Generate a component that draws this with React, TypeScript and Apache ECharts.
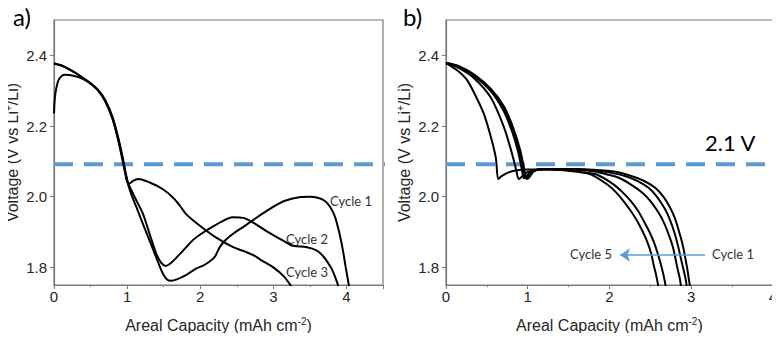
import React, { useEffect, useRef } from "react";
import * as echarts from "echarts";

// ---------- data ----------
const yTickValues = [1.8, 2.0, 2.2, 2.4];
const thresholdV = 2.092;

// Panel a
const aCycle1: [number, number][] = [
  [0, 2.235], [0.01, 2.275], [0.03, 2.305], [0.07, 2.333], [0.15, 2.345], [0.25, 2.343],
  [0.4, 2.333], [0.5, 2.32], [0.6, 2.302], [0.7, 2.272], [0.8, 2.222], [0.88, 2.162],
  [0.94, 2.105], [0.98, 2.065], [1.02, 2.03], [1.06, 2.005], [1.13, 1.969], [1.22, 1.921],
  [1.31, 1.874], [1.4, 1.827], [1.49, 1.782], [1.55, 1.765], [1.6, 1.762], [1.68, 1.766],
  [1.81, 1.779], [1.95, 1.797], [2.04, 1.805], [2.12, 1.815], [2.2, 1.83], [2.27, 1.858],
  [2.35, 1.878], [2.45, 1.895], [2.6, 1.916], [2.73, 1.935], [2.91, 1.96], [3.14, 1.987],
  [3.37, 1.999], [3.5, 2.0], [3.62, 1.996], [3.71, 1.987], [3.78, 1.97], [3.84, 1.945],
  [3.9, 1.9], [3.95, 1.85], [3.99, 1.8], [4.02, 1.765], [4.04, 1.74],
];
const aCycle2: [number, number][] = [
  [0, 2.378], [0.1, 2.372], [0.2, 2.362], [0.3, 2.35], [0.4, 2.336], [0.5, 2.321],
  [0.6, 2.303], [0.7, 2.274], [0.8, 2.226], [0.88, 2.166], [0.94, 2.11], [0.98, 2.068],
  [1.01, 2.04], [1.04, 2.026], [1.13, 1.988], [1.22, 1.95], [1.31, 1.893], [1.4, 1.838],
  [1.47, 1.812], [1.53, 1.804], [1.6, 1.812], [1.7, 1.833], [1.8, 1.855], [1.9, 1.877],
  [2.0, 1.893], [2.22, 1.921], [2.45, 1.942], [2.59, 1.94], [2.73, 1.926], [2.91, 1.902],
  [3.14, 1.875], [3.27, 1.861], [3.46, 1.857], [3.59, 1.848], [3.68, 1.832], [3.75, 1.812],
  [3.8, 1.795], [3.85, 1.77], [3.9, 1.74],
];
const aCycle3: [number, number][] = [
  [0, 2.376], [0.1, 2.371], [0.2, 2.361], [0.3, 2.349], [0.4, 2.335], [0.5, 2.32],
  [0.6, 2.301], [0.7, 2.27], [0.8, 2.22], [0.88, 2.158], [0.94, 2.1], [0.98, 2.06],
  [1.0, 2.042], [1.03, 2.037], [1.08, 2.045], [1.15, 2.05], [1.31, 2.04], [1.49, 2.021],
  [1.63, 1.997], [1.72, 1.975], [1.81, 1.95], [2.0, 1.917], [2.22, 1.884], [2.45, 1.857],
  [2.63, 1.843], [2.75, 1.832], [2.85, 1.818], [3.0, 1.8], [3.14, 1.775], [3.25, 1.745],
];

// Panel b
const bCycle1: [number, number][] = [
  [0, 2.378], [0.15, 2.37], [0.35, 2.345], [0.55, 2.305], [0.71, 2.255], [0.83, 2.19],
  [0.91, 2.13], [0.96, 2.075], [0.99, 2.05], [1.02, 2.055], [1.08, 2.072], [1.2, 2.078],
  [1.5, 2.078], [1.8, 2.076], [2.09, 2.07], [2.25, 2.06], [2.42, 2.045], [2.56, 2.025],
  [2.66, 2.0], [2.74, 1.97], [2.8, 1.94], [2.86, 1.895], [2.9, 1.86], [2.95, 1.8],
  [2.97, 1.77], [2.99, 1.74],
];
const bCycle2: [number, number][] = [
  [0, 2.378], [0.15, 2.369], [0.35, 2.343], [0.55, 2.302], [0.71, 2.25], [0.82, 2.19],
  [0.9, 2.13], [0.95, 2.075], [0.975, 2.052], [1.0, 2.055], [1.06, 2.072], [1.2, 2.078],
  [1.5, 2.078], [1.8, 2.075], [2.01, 2.068], [2.2, 2.058], [2.34, 2.045], [2.48, 2.025],
  [2.58, 2.0], [2.68, 1.965], [2.74, 1.935], [2.8, 1.895], [2.84, 1.86], [2.9, 1.8],
  [2.93, 1.77], [2.95, 1.74],
];
const bCycle3: [number, number][] = [
  [0, 2.378], [0.15, 2.368], [0.35, 2.34], [0.55, 2.298], [0.7, 2.245], [0.8, 2.19],
  [0.88, 2.13], [0.93, 2.075], [0.955, 2.052], [0.98, 2.056], [1.05, 2.072], [1.2, 2.078],
  [1.5, 2.077], [1.8, 2.072], [1.97, 2.063], [2.1, 2.055], [2.26, 2.035], [2.4, 2.012],
  [2.5, 1.988], [2.6, 1.955], [2.66, 1.93], [2.73, 1.89], [2.78, 1.855], [2.83, 1.8],
  [2.86, 1.77], [2.88, 1.74],
];
const bCycle4: [number, number][] = [
  [0, 2.378], [0.15, 2.365], [0.35, 2.334], [0.55, 2.28], [0.71, 2.196], [0.81, 2.12],
  [0.86, 2.075], [0.89, 2.05], [0.92, 2.055], [1.0, 2.07], [1.2, 2.077], [1.5, 2.075],
  [1.7, 2.068], [1.85, 2.062], [2.05, 2.035], [2.15, 2.015], [2.26, 1.988], [2.35, 1.96],
  [2.42, 1.931], [2.49, 1.9], [2.54, 1.874], [2.59, 1.84], [2.63, 1.808], [2.66, 1.78],
  [2.69, 1.745],
];
const bCycle5: [number, number][] = [
  [0, 2.378], [0.14, 2.357], [0.26, 2.329], [0.39, 2.272], [0.47, 2.23], [0.55, 2.168],
  [0.61, 2.11], [0.64, 2.05], [0.68, 2.058], [0.76, 2.068], [0.85, 2.074], [1.0, 2.077],
  [1.3, 2.077], [1.55, 2.072], [1.77, 2.063], [1.97, 2.035], [2.07, 2.015], [2.17, 1.988],
  [2.26, 1.96], [2.34, 1.931], [2.41, 1.9], [2.46, 1.874], [2.51, 1.84], [2.54, 1.808],
  [2.57, 1.78], [2.6, 1.745],
];

const arrowFrom: [number, number] = [3.17, 1.835];
const arrowTo: [number, number] = [2.13, 1.835];

// ---------- styles ----------
const axisGray = "#7a7a7a";
const tickFont = { color: "#262626", fontSize: 15, fontFamily: "Liberation Sans, Arial, sans-serif" };
const nameFont = "Liberation Sans, Arial, sans-serif";
const calloutFont = "Lato, 'Open Sans', sans-serif";
const dashBlue = "#5b9bd5";

function makeXAxis(gridIndex: number, max: number) {
  return {
    type: "value",
    gridIndex,
    min: 0,
    max,
    interval: 1,
    axisLine: { show: true, onZero: false, lineStyle: { color: axisGray, width: 1.2 } },
    axisTick: { show: true, length: 4, lineStyle: { color: axisGray } },
    minorTick: { show: true, splitNumber: 2, length: 2, lineStyle: { color: axisGray } },
    splitLine: { show: false },
    minorSplitLine: { show: false },
    axisLabel: {
      ...tickFont,
      margin: 4,
      formatter: (v: number) => (Number.isInteger(v) ? String(v) : ""),
    },
    name: "{a|Areal Capacity (mAh cm}{s|-2}{a|)}",
    nameLocation: "middle",
    nameGap: 31,
    nameTextStyle: {
      rich: {
        a: { fontSize: 16, color: "#262626", fontFamily: nameFont, lineHeight: 18 },
        s: { fontSize: 10, color: "#262626", fontFamily: nameFont, verticalAlign: "top", lineHeight: 18 },
      },
    },
  };
}

function makeYAxis(gridIndex: number) {
  return {
    type: "value",
    gridIndex,
    min: 1.75,
    max: 2.5,
    axisLine: { show: true, onZero: false, lineStyle: { color: axisGray, width: 1.2 } },
    axisTick: { show: true, length: 4, customValues: yTickValues, lineStyle: { color: axisGray } },
    splitLine: { show: false },
    axisLabel: {
      ...tickFont,
      margin: 7,
      customValues: yTickValues,
      formatter: (v: number) => v.toFixed(1),
    },
    name: "{a|Voltage (V vs Li}{s|+}{a|/Li)}",
    nameLocation: "middle",
    nameGap: 33,
    nameTextStyle: {
      rich: {
        a: { fontSize: 16, color: "#262626", fontFamily: nameFont, lineHeight: 18 },
        s: { fontSize: 10, color: "#262626", fontFamily: nameFont, verticalAlign: "top", lineHeight: 18 },
      },
    },
  };
}

function curve(name: string, data: [number, number][], idx: number) {
  return {
    type: "line",
    name,
    xAxisIndex: idx,
    yAxisIndex: idx,
    data,
    smooth: 0.3,
    showSymbol: false,
    symbol: "none",
    clip: true,
    z: 3,
    lineStyle: { color: "#000", width: 2 },
  };
}

function dashed(idx: number, xmax: number) {
  return {
    type: "line",
    xAxisIndex: idx,
    yAxisIndex: idx,
    data: [
      [0, thresholdV],
      [xmax, thresholdV],
    ],
    symbol: "none",
    clip: false,
    z: 2,
    lineStyle: { color: dashBlue, width: 4, type: [19, 11] },
  };
}

export default function App() {
  const ref = useRef<HTMLDivElement>(null);

  useEffect(() => {
    if (!ref.current) return;
    const chart = echarts.init(ref.current, undefined, { renderer: "svg" });
    const option: any = {
      animation: false,
      backgroundColor: "#ffffff",
      grid: [
        { left: 54, top: 20, right: 397, bottom: 56, show: true, borderColor: axisGray, borderWidth: 1.2, backgroundColor: "transparent" },
        { left: 446, top: 20, right: 7, bottom: 56, show: true, borderColor: axisGray, borderWidth: 1.2, backgroundColor: "transparent" },
      ],
      xAxis: [makeXAxis(0, 4.5), makeXAxis(1, 4)],
      yAxis: [makeYAxis(0), makeYAxis(1)],
      series: [
        dashed(0, 4.55),
        dashed(1, 4.1),
        curve("a Cycle 1", aCycle1, 0),
        curve("a Cycle 2", aCycle2, 0),
        curve("a Cycle 3", aCycle3, 0),
        curve("b Cycle 1", bCycle1, 1),
        curve("b Cycle 2", bCycle2, 1),
        curve("b Cycle 3", bCycle3, 1),
        curve("b Cycle 4", bCycle4, 1),
        {
          ...curve("b Cycle 5", bCycle5, 1),
          markLine: {
            silent: true,
            symbol: ["none", "arrow"],
            symbolSize: [10, 10],
            label: { show: false },
            lineStyle: { color: dashBlue, width: 1.5, type: "solid" },
            data: [[{ coord: arrowFrom }, { coord: arrowTo }]],
          },
        },
      ],
      graphic: [
        { type: "text", left: 13, top: 4, style: { text: "a)", fontSize: 24, fontFamily: calloutFont, fill: "#000" } },
        { type: "text", left: 403, top: 4, style: { text: "b)", fontSize: 24, fontFamily: calloutFont, fill: "#000" } },
        { type: "text", x: 705, y: 142, style: { text: "2.1 V", fontSize: 22, fontFamily: calloutFont, fill: "#000", verticalAlign: "middle" } },
        { type: "text", x: 330, y: 201, style: { text: "Cycle 1", fontSize: 13, fontFamily: calloutFont, fill: "#333", verticalAlign: "middle" } },
        { type: "text", x: 286, y: 239, style: { text: "Cycle 2", fontSize: 13, fontFamily: calloutFont, fill: "#333", verticalAlign: "middle" } },
        { type: "text", x: 286, y: 272, style: { text: "Cycle 3", fontSize: 13, fontFamily: calloutFont, fill: "#333", verticalAlign: "middle" } },
        { type: "text", x: 570, y: 254, style: { text: "Cycle 5", fontSize: 13, fontFamily: calloutFont, fill: "#333", verticalAlign: "middle" } },
        { type: "text", x: 712, y: 254, style: { text: "Cycle 1", fontSize: 13, fontFamily: calloutFont, fill: "#333", verticalAlign: "middle" } },
      ],
    };
    chart.setOption(option);
    return () => chart.dispose();
  }, []);

  return <div ref={ref} style={{ width: 780, height: 341, margin: -8 }} />;
}
